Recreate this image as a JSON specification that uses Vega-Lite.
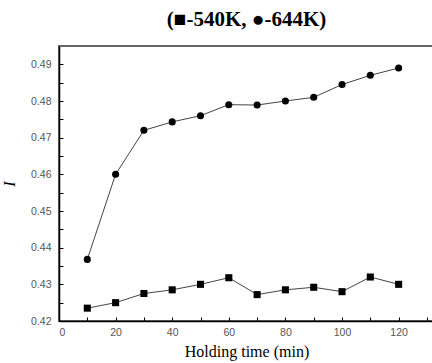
{
  "$schema": "https://vega.github.io/schema/vega-lite/v6.json",
  "autosize": "none",
  "width": 375,
  "height": 275,
  "padding": {"left": 59, "top": 46, "right": 0, "bottom": 42},
  "background": "white",
  "title": {
    "text": "(■-540K, ●-644K)",
    "font": "Liberation Serif",
    "fontSize": 21,
    "fontWeight": "bold",
    "color": "black",
    "anchor": "middle",
    "offset": 16
  },
  "config": {
    "view": {"stroke": "#666666", "strokeWidth": 2},
    "axis": {
      "labelFont": "Liberation Sans",
      "labelFontSize": 10.5,
      "labelColor": "#555555",
      "titleFont": "Liberation Serif",
      "titleFontSize": 16,
      "titleFontWeight": "normal",
      "titleColor": "black",
      "domainColor": "black",
      "domainWidth": 1.5,
      "tickColor": "black",
      "tickWidth": 1,
      "tickSize": -4,
      "grid": false
    }
  },
  "data": {
    "values": [
      {"t": 10, "I": 0.4235, "s": "540K"},
      {"t": 20, "I": 0.4250, "s": "540K"},
      {"t": 30, "I": 0.4275, "s": "540K"},
      {"t": 40, "I": 0.4285, "s": "540K"},
      {"t": 50, "I": 0.4300, "s": "540K"},
      {"t": 60, "I": 0.4318, "s": "540K"},
      {"t": 70, "I": 0.4272, "s": "540K"},
      {"t": 80, "I": 0.4285, "s": "540K"},
      {"t": 90, "I": 0.4292, "s": "540K"},
      {"t": 100, "I": 0.4280, "s": "540K"},
      {"t": 110, "I": 0.4320, "s": "540K"},
      {"t": 120, "I": 0.4300, "s": "540K"},
      {"t": 10, "I": 0.4368, "s": "644K"},
      {"t": 20, "I": 0.4600, "s": "644K"},
      {"t": 30, "I": 0.4720, "s": "644K"},
      {"t": 40, "I": 0.4743, "s": "644K"},
      {"t": 50, "I": 0.4760, "s": "644K"},
      {"t": 60, "I": 0.4790, "s": "644K"},
      {"t": 70, "I": 0.4789, "s": "644K"},
      {"t": 80, "I": 0.4800, "s": "644K"},
      {"t": 90, "I": 0.4810, "s": "644K"},
      {"t": 100, "I": 0.4845, "s": "644K"},
      {"t": 110, "I": 0.4870, "s": "644K"},
      {"t": 120, "I": 0.4890, "s": "644K"}
    ]
  },
  "encoding": {
    "x": {
      "field": "t",
      "type": "quantitative",
      "scale": {"domain": [0, 132.5], "nice": false, "zero": false},
      "axis": {
        "title": "Holding time (min)",
        "values": [0, 10, 20, 30, 40, 50, 60, 70, 80, 90, 100, 110, 120, 130],
        "labelExpr": "datum.value % 20 == 0 ? datum.label : ''",
        "labelPadding": 10,
        "titlePadding": 6
      }
    },
    "y": {
      "field": "I",
      "type": "quantitative",
      "scale": {"domain": [0.42, 0.495], "nice": false, "zero": false},
      "axis": {
        "title": "I",
        "titleFontStyle": "italic",
        "values": [0.42, 0.425, 0.43, 0.435, 0.44, 0.445, 0.45, 0.455, 0.46, 0.465, 0.47, 0.475, 0.48, 0.485, 0.49],
        "labelExpr": "round(datum.value * 1000) % 10 == 0 ? format(datum.value, '.2f') : ''",
        "labelPadding": 12,
        "titlePadding": 13
      }
    },
    "detail": {"field": "s"}
  },
  "layer": [
    {
      "mark": {"type": "line", "color": "#444444", "strokeWidth": 1}
    },
    {
      "mark": {"type": "point", "filled": true, "opacity": 1, "color": "black"},
      "encoding": {
        "shape": {
          "field": "s",
          "type": "nominal",
          "scale": {"domain": ["540K", "644K"], "range": ["square", "circle"]},
          "legend": null
        },
        "size": {"value": 50}
      }
    }
  ]
}
